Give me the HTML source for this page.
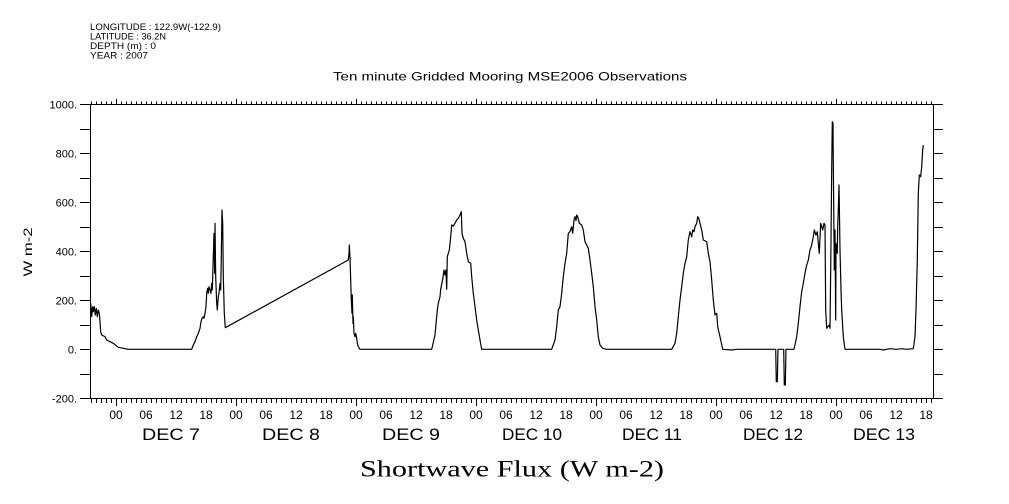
<!DOCTYPE html>
<html>
<head>
<meta charset="utf-8">
<style>
html,body{margin:0;padding:0;background:#fff;}
svg{display:block;}
text{font-family:"Liberation Sans",sans-serif;fill:#000;}
</style>
</head>
<body>
<svg width="1009" height="504" viewBox="0 0 1009 504" xmlns="http://www.w3.org/2000/svg">
<defs>
<pattern id="mt" patternUnits="userSpaceOnUse" x="116" y="0" width="5" height="504">
<rect x="0" y="0" width="1" height="504" fill="#000"/>
</pattern>
</defs>
<rect width="1009" height="504" fill="#fff"/>

<!-- header -->
<g font-size="9.5">
<text x="90" y="30" textLength="131" lengthAdjust="spacingAndGlyphs">LONGITUDE : 122.9W(-122.9)</text>
<text x="90" y="39.5" textLength="76" lengthAdjust="spacingAndGlyphs">LATITUDE : 36.2N</text>
<text x="90" y="49" textLength="66" lengthAdjust="spacingAndGlyphs">DEPTH (m) : 0</text>
<text x="90" y="58.5" textLength="58" lengthAdjust="spacingAndGlyphs">YEAR : 2007</text>
</g>

<!-- title -->
<text x="333" y="80.5" font-size="12" textLength="354" lengthAdjust="spacingAndGlyphs">Ten minute Gridded Mooring MSE2006 Observations</text>

<!-- frame -->
<g shape-rendering="crispEdges" stroke="#000" stroke-width="1" fill="none">
<rect x="90.5" y="104.5" width="843" height="294"/>
</g>

<!-- minor hourly ticks -->
<g shape-rendering="crispEdges">
<rect x="91" y="101.5" width="841" height="3" fill="url(#mt)"/>
<rect x="91" y="399" width="841" height="4" fill="url(#mt)"/>
</g>

<!-- major ticks -->
<g shape-rendering="crispEdges" stroke="#000" stroke-width="1">
<path d="M116.5 99V104 M236.5 99V104 M356.5 99V104 M476.5 99V104 M596.5 99V104 M716.5 99V104 M836.5 99V104"/>
<path d="M116.5 399V406 M236.5 399V406 M356.5 399V406 M476.5 399V406 M596.5 399V406 M716.5 399V406 M836.5 399V406"/>
<!-- y ticks left & right -->
<path d="M80 104.5H90 M80 129.5H90 M80 153.5H90 M80 178.5H90 M80 202.5H90 M80 227.5H90 M80 251.5H90 M80 276.5H90 M80 300.5H90 M80 325.5H90 M80 349.5H90 M80 374.5H90 M80 398.5H90"/>
<path d="M934 104.5H943 M934 129.5H943 M934 153.5H943 M934 178.5H943 M934 202.5H943 M934 227.5H943 M934 251.5H943 M934 276.5H943 M934 300.5H943 M934 325.5H943 M934 349.5H943 M934 374.5H943 M934 398.5H943"/>
</g>

<!-- y labels -->
<g font-size="11" text-anchor="end">
<text x="77" y="108.5">1000.</text>
<text x="77" y="157.5">800.</text>
<text x="77" y="206.5">600.</text>
<text x="77" y="255.5">400.</text>
<text x="77" y="304.5">200.</text>
<text x="77" y="353.5">0.</text>
<text x="77" y="402.5">-200.</text>
</g>
<text x="0" y="0" font-size="12" text-anchor="middle" transform="translate(32,252) rotate(-90)" textLength="49" lengthAdjust="spacingAndGlyphs">W m-2</text>

<!-- hour labels -->
<g font-size="12" text-anchor="middle">
<text x="116" y="419">00</text><text x="146" y="419">06</text><text x="176" y="419">12</text><text x="206" y="419">18</text>
<text x="236" y="419">00</text><text x="266" y="419">06</text><text x="296" y="419">12</text><text x="326" y="419">18</text>
<text x="356" y="419">00</text><text x="386" y="419">06</text><text x="416" y="419">12</text><text x="446" y="419">18</text>
<text x="476" y="419">00</text><text x="506" y="419">06</text><text x="536" y="419">12</text><text x="566" y="419">18</text>
<text x="596" y="419">00</text><text x="626" y="419">06</text><text x="656" y="419">12</text><text x="686" y="419">18</text>
<text x="716" y="419">00</text><text x="746" y="419">06</text><text x="776" y="419">12</text><text x="806" y="419">18</text>
<text x="836" y="419">00</text><text x="866" y="419">06</text><text x="896" y="419">12</text><text x="926" y="419">18</text>
</g>

<!-- day labels -->
<g font-size="17">
<text x="142" y="440" textLength="58" lengthAdjust="spacingAndGlyphs">DEC  7</text>
<text x="262" y="440" textLength="58" lengthAdjust="spacingAndGlyphs">DEC  8</text>
<text x="382" y="440" textLength="58" lengthAdjust="spacingAndGlyphs">DEC  9</text>
<text x="502" y="440" textLength="60" lengthAdjust="spacingAndGlyphs">DEC 10</text>
<text x="622" y="440" textLength="60" lengthAdjust="spacingAndGlyphs">DEC 11</text>
<text x="743" y="440" textLength="60" lengthAdjust="spacingAndGlyphs">DEC 12</text>
<text x="853" y="440" textLength="62" lengthAdjust="spacingAndGlyphs">DEC 13</text>
</g>

<!-- bottom title -->
<text x="360" y="476.5" font-size="23" textLength="304" lengthAdjust="spacingAndGlyphs" style="font-family:'Liberation Serif',serif">Shortwave Flux (W m-2)</text>

<!-- data -->
<polyline fill="none" stroke="#000" stroke-width="1.2" stroke-linejoin="round" points="
90.7,303.3 91.7,316.7 92.7,306.7 93.3,311.7 94.3,306.7 95.3,315 96.3,308.3 97.3,316.7 98.3,310 99.3,313.3 100,322 100.7,332 101.7,335 105,336.7 106.7,340 110,341.7 113.3,343.3 118.3,347.3 123.3,348.3 128.3,349.3 191.7,349.3
193.3,345 195,341.7 196.7,336.7 198.3,333.3 200,328.3 201,321.7 202,318.3 203.3,316.7 204,318.3 205,313.3 206,306.7 206.7,293.3 207.7,288.3 208.3,293.3 209,286.7 210,290 211,293.3 211.7,283.3 212.3,290 213.3,256.7 214,233.3 214.7,273.3 215,223.3 215.7,276.7 216.7,303.3 217.3,310 218.3,296.7 219,293.3 220,283.3 220.7,290 221.3,256.7 222,210 222.7,223.3 223.3,276.7 224.3,313.3 225.3,327.7
348.3,260 349,253.3 349.3,245 350,256.7 350.7,280 351.3,300 352,313.3 352.3,295 353,323.3 353.3,316.7 354,333.3 355,336.7 355.7,333.3 356.7,338.3 357.3,343.3 358.3,346.7 360,349.3
431.7,349.3 435,335 437.3,310 438.3,303.3 440,296.7 440.7,289.3 442.7,279.3 444,270 445,275 446,270 446.7,289.3 447.3,256.7 449.3,250 450.7,236.7 451.7,225 453.3,226 455,223.3 456.7,220 458.3,218.3 460,215 461.3,211.7 462,233.3 463.3,238.3 465,241.7 466.7,253.3 468.3,261.7 470.7,263.3 471.7,276.7 473.3,293.3 475,306.7 476.7,320 478.3,330 480,340 481.7,349.3
551.7,349.3 555,340 556.7,326.7 558.3,310 560,306.7 561.7,293.3 563.3,276.7 565,263.3 566.7,253.3 568.3,233.3 570,231.7 571.7,226.7 572.7,233.3 574,220 575,216.7 576,220.7 576.7,215 577.7,216.7 579.3,223.3 581.7,225 583.3,230 585,241.7 588.3,248.3 590,260 591.7,273.3 593.3,286.7 595,306.7 596.7,320 598.3,336.7 600,345 602.7,348.3 606.7,349.3
671.7,349.3 675,343.3 676.7,333.3 678.3,316.7 680,300 681.7,286.7 683.3,273.3 685,263.3 686.7,256.7 688.3,240 690,231.7 691.7,236.7 692.7,230 694,231.7 695,226.7 696.7,223.3 697.7,216.7 698.7,218.3 700,223.3 701.7,230 703.3,240 706.7,241.7 708.3,253.3 710,261.7 711.7,280 713.3,300 715,315 716.7,313.3 717.7,326.7 720,336.7 722.7,349.3 731.7,350 736.7,349.3
775.7,349.3 776.3,381.7 777.3,381.7 778,349.3 783.7,349.3 784.3,385 785.3,385 786,349.3 794,349.3
796.7,336.7 798.3,323.3 800,306.7 801.7,291.7 803.3,283.3 805,273.3 806.7,265 808.3,260 810,250 811.7,245 813.3,236.7 814.3,230 816,235 817.3,231.7 818.3,243.3 819.3,253.3 820,238.3 820.7,223.3 821.7,226.7 822.7,230 824,223.3 825,225 825.7,310 826.7,328.3 827.7,326.7 829.3,325 830,328.3 830.7,270 831.7,170 832.3,121.7 833,123.3 833.3,163.3 834.3,270 835,230 835.7,320 836,243.3 836.7,250 837.3,253.3 837.7,226.7 838.3,210 839,185 839.3,203.3 840,250 841,290 841.7,310 843.3,336.7 845,349.3
880,349.3 883.3,350 890,348.7 896.7,349.3 901.7,348.7 906.7,349.3 913.3,348.7 915,336.7 916,310 917.3,260 918.3,193.3 919.3,175 920.7,176.7 921.7,166.7 922.7,150 923.3,145"/>
</svg>
</body>
</html>
